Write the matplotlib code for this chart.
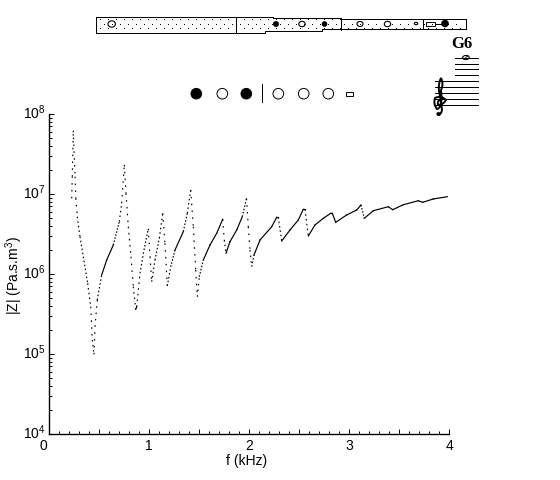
#!/usr/bin/env python3

import numpy as np
import matplotlib
matplotlib.use("Agg")
import matplotlib.pyplot as plt
from matplotlib.patches import Circle, Ellipse, PathPatch, Rectangle
from matplotlib.path import Path
from matplotlib.ticker import FixedLocator, FuncFormatter
from matplotlib.transforms import ScaledTranslation

plt.rcParams['font.family'] = ['Liberation Sans', 'DejaVu Sans']
plt.rcParams['mathtext.fontset'] = 'custom'
plt.rcParams['mathtext.rm'] = 'Liberation Sans'
plt.rcParams['mathtext.default'] = 'regular'

# values: frequency in kHz and log10 of |Z|
freq = [0.224, 0.230, 0.240, 0.258, 0.265, 0.280, 0.307, 0.340, 0.384, 0.414,
        0.430, 0.447, 0.457, 0.480, 0.524, 0.574, 0.640, 0.700, 0.724, 0.750,
        0.767, 0.790, 0.817, 0.840, 0.864, 0.874, 0.907, 0.947, 0.990, 1.007,
        1.024, 1.057, 1.100, 1.134, 1.157, 1.180, 1.214, 1.257, 1.340, 1.380,
        1.414, 1.440, 1.464, 1.480, 1.500, 1.540, 1.607, 1.674, 1.734, 1.750,
        1.767, 1.807, 1.874, 1.930, 1.972, 1.990, 2.007, 2.024, 2.047, 2.107,
        2.224, 2.274, 2.290, 2.324, 2.407, 2.490, 2.540, 2.557, 2.590, 2.657,
        2.740, 2.814, 2.830, 2.864, 2.974, 3.074, 3.117, 3.150, 3.240, 3.390,
        3.434, 3.540, 3.690, 3.734, 3.840, 3.980]
log_z = [6.946, 7.216, 7.790, 7.216, 6.946, 6.716, 6.466, 6.216, 5.884, 5.591,
         5.175, 4.996, 5.341, 5.675, 5.988, 6.175, 6.363, 6.654, 6.884, 7.363,
         7.009, 6.591, 6.216, 5.841, 5.559, 5.590, 6.009, 6.300, 6.563, 6.216,
         5.904, 6.175, 6.446, 6.759, 6.384, 5.850, 6.090, 6.300, 6.529, 6.759,
         7.050, 6.591, 6.050, 5.716, 5.966, 6.175, 6.363, 6.509, 6.684, 6.425,
         6.259, 6.404, 6.550, 6.716, 6.946, 6.591, 6.300, 6.091, 6.238, 6.425,
         6.591, 6.709, 6.709, 6.413, 6.550, 6.675, 6.809, 6.809, 6.475, 6.613,
         6.696, 6.759, 6.759, 6.646, 6.738, 6.800, 6.863, 6.696, 6.791, 6.841,
         6.804, 6.866, 6.916, 6.896, 6.938, 6.966]

y_ticks = [1e4, 1e5, 1e6, 1e7, 1e8]
x_tick_labels = ['0', '1', '2', '3', '4']

open_holes = [(111.7, 24, 3.2), (302, 24, 2.7), (360, 24, 2.5), (387.5, 24, 2.7), (416, 23.5, 1.2)]
closed_holes = [(276, 24, 2.7), (324.5, 24, 2.5), (445, 23.5, 3.5)]
finger_x = [196.3, 222.3, 246.3, 278.3, 303.7, 328.3]
finger_closed = [True, False, True, False, False, False]

THIN = 0.7

fig = plt.figure(figsize=(5.6, 4.8), dpi=100)
ax = fig.add_axes([49.3 / 560, 46 / 480, 400 / 560, 320 / 480])

# steep parts of the measured curve come out dotted, flat parts solid
z = 10.0 ** np.array(log_z)
for i in range(len(freq) - 1):
    slope = abs(log_z[i + 1] - log_z[i]) * 80 / ((freq[i + 1] - freq[i]) * 100)
    if slope < 3.2:
        ls = '-'
    else:
        ls = (0, (1.3, min(slope * 0.35, 4.5)))
    ax.plot(freq[i:i + 2], z[i:i + 2], color='k', lw=0.85, ls=ls,
            dash_capstyle='butt')

ax.set_yscale('log')
ax.set_xlim(0, 4)
ax.set_ylim(1e4, 1e8)
ax.spines['top'].set_visible(False)
ax.spines['right'].set_visible(False)
ax.spines['left'].set_linewidth(1.0)
ax.spines['bottom'].set_linewidth(1.0)

ax.xaxis.set_major_locator(FixedLocator(np.arange(0, 4.01, 0.5)))
ax.xaxis.set_minor_locator(FixedLocator(np.arange(0, 4.01, 0.1)))
ax.set_xticklabels([])
ax.yaxis.set_major_locator(FixedLocator(y_ticks))
ax.yaxis.set_minor_locator(FixedLocator(
    [m * 10.0 ** e for e in range(4, 8) for m in range(2, 10)]))
ax.yaxis.set_major_formatter(FuncFormatter(
    lambda v, p: r'$10^{%d}$' % round(np.log10(v))))
ax.yaxis.set_minor_formatter(FuncFormatter(lambda v, p: ''))
ax.tick_params(which='major', direction='in', length=3.5, width=THIN, labelsize=10, pad=2.5)
ax.tick_params(which='minor', direction='in', length=2, width=THIN)

# the y labels sit a little above their ticks
lift = ScaledTranslation(0, 2.5 / 100, fig.dpi_scale_trans)
for lab in ax.get_yticklabels():
    lab.set_transform(lab.get_transform() + lift)

for i, lab in enumerate(x_tick_labels):
    pos = i if i > 0 else -0.06
    ax.text(pos, 1e4 * 10 ** (-11.5 / 80), lab, ha='center', va='center', fontsize=10)

fig.text(247 / 560, 1 - 461.5 / 480, 'f (kHz)', ha='center', va='center', fontsize=10)
fig.text(14 / 560, 1 - 275 / 480, r'|Z| (Pa.s.m$^{3}$)', rotation=90,
         ha='center', va='center', fontsize=10)

# overlay in image pixels for the flute sketch, fingering and staff
ov = fig.add_axes([0, 0, 1, 1])
ov.set_xlim(0, 560)
ov.set_ylim(480, 0)
ov.axis('off')
ov.patch.set_alpha(0)

dots_x, dots_y = [], []
for row, y in enumerate([20, 24.5, 29]):
    xs = np.arange(100 + (row % 2) * 4, 464, 8)
    dots_x.extend(xs)
    dots_y.extend([y] * len(xs))
ov.plot(dots_x, dots_y, ls='none', marker=',', color='k')

outline_x = [95.5, 273, 273, 341, 341, 465.5, 465.5, 322, 322, 265, 265, 95.5, 95.5]
outline_y = [16.5, 16.5, 17.5, 17.5, 19, 19, 28.5, 28.5, 31, 31, 32.5, 32.5, 16.5]
ov.plot(outline_x, outline_y, color='k', lw=THIN, antialiased=False)
for dx, y0, y1 in [(235.5, 16.5, 32.5), (341, 19, 30), (423, 19, 28.5)]:
    ov.plot([dx, dx], [y0, y1], color='k', lw=THIN, antialiased=False)

for x, y, r in open_holes:
    ov.add_patch(Ellipse((x, y), 2 * r + 1, 2 * r, fc='w', ec='k', lw=0.8))
for x, y, r in closed_holes:
    ov.add_patch(Circle((x, y), r, fc='k', ec='k', lw=0.4))
ov.add_patch(Rectangle((426, 22), 9, 4, fc='w', ec='k', lw=0.7))
ov.plot([435, 442], [24, 24], color='k', lw=THIN, antialiased=False)

for x, closed in zip(finger_x, finger_closed):
    ov.add_patch(Circle((x, 93.7), 5.3, fc='k' if closed else 'w', ec='k', lw=0.7))
ov.plot([262.3, 262.3], [84, 102], color='k', lw=THIN, antialiased=False)
ov.add_patch(Rectangle((345.7, 92), 7.3, 4.3, fc='w', ec='k', lw=0.7))

for y in [81, 87, 93, 99, 105]:
    ov.plot([435, 478], [y, y], color='k', lw=THIN, antialiased=False)
for y in [58, 63.5, 69, 75]:
    ov.plot([455, 478], [y, y], color='k', lw=THIN, antialiased=False)
ov.add_patch(Ellipse((466, 57.5), 6.5, 4, fc='w', ec='k', lw=0.8))
ov.plot([464, 468], [59.5, 55.5], color='k', lw=0.6)
ov.text(462, 43.5, 'G6', ha='center', va='center', fontsize=12,
        fontweight='bold', family='Liberation Serif')

# treble clef: no installed family has the glyph, so it is a hand drawn path
clef = [(441, 100), (437, 100), (438, 105), (443, 105), (446, 100), (441, 95),
        (435, 98), (433, 104), (437, 109), (443, 108), (441, 90), (444, 84),
        (441, 78), (438, 84), (439, 91), (441, 100), (442, 110), (441, 115), (438, 115)]
codes = [Path.MOVETO] + [Path.CURVE3] * (len(clef) - 1)
if len(clef) % 2 == 0:
    codes[-1] = Path.LINETO
ov.add_patch(PathPatch(Path(clef, codes), fc='none', ec='k', lw=1.4))
ov.add_patch(Circle((438.5, 114), 1.8, fc='k', ec='k', lw=0.3))

fig.savefig('out.png', dpi=100)
